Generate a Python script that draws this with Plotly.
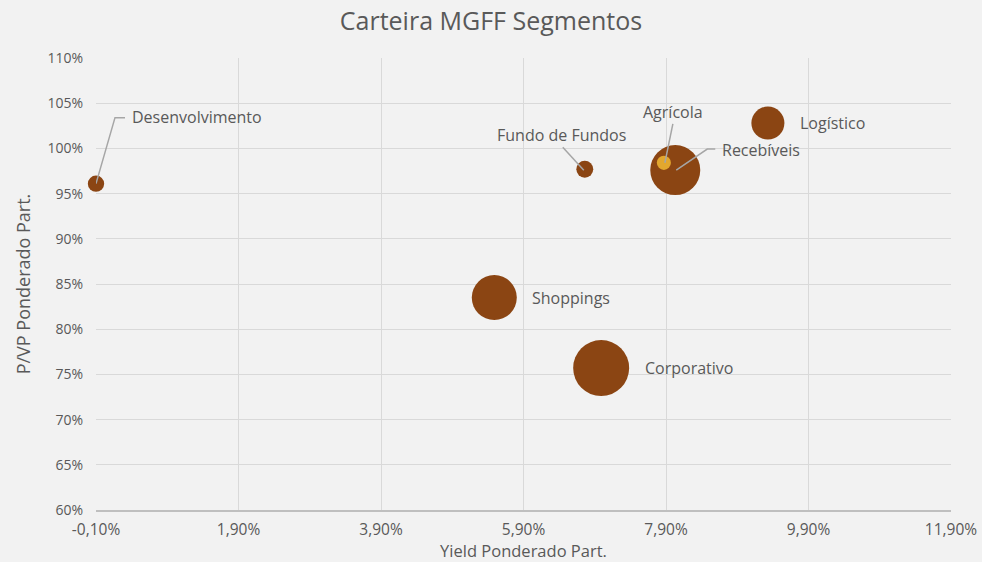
import plotly.graph_objects as go

# ---- data ----
segments = ["Desenvolvimento", "Fundo de Fundos", "Recebíveis", "Agrícola",
            "Logístico", "Shoppings", "Corporativo"]
yield_pct = [-0.10, 6.76, 8.03, 7.87, 9.33, 5.49, 6.99]      # Yield Ponderado Part. (%)
pvp_pct = [96.1, 97.7, 97.6, 98.4, 102.8, 83.5, 75.7]          # P/VP Ponderado Part. (%)
participation = [2.8, 3.0, 26.3, 2.1, 11.5, 21.3, 33.0]       # bubble size (% of portfolio)
bubble_colors = ["#8B4513", "#8B4513", "#8B4513", "#E2A72E",
                 "#8B4513", "#8B4513", "#8B4513"]

x_tickvals = [-0.10, 1.90, 3.90, 5.90, 7.90, 9.90, 11.90]
x_ticktext = ["-0,10%", "1,90%", "3,90%", "5,90%", "7,90%", "9,90%", "11,90%"]
y_tickvals = [60, 65, 70, 75, 80, 85, 90, 95, 100, 105, 110]
y_ticktext = [f"{v}%" for v in y_tickvals]

# label placement in pixels relative to each bubble (style, not data):
# text shift and optional leader-line path (pixel offsets, y positive = up)
label_style = {
    "Desenvolvimento": dict(xs=34, ys=67, xanchor="left",
                            path="M 0 0 L 19 66 L 29 66"),
    "Fundo de Fundos": dict(xs=-23, ys=34, xanchor="center",
                            path="M -1 -1 L -22 22"),
    "Agrícola": dict(xs=9, ys=51, xanchor="center",
                     path="M 1 0 L 9 39"),
    "Recebíveis": dict(xs=45, ys=20, xanchor="left",
                       path="M 1 0 L 32 21 L 40 21"),
    "Logístico": dict(xs=30, ys=0, xanchor="left", path=None),
    "Shoppings": dict(xs=36, ys=0, xanchor="left", path=None),
    "Corporativo": dict(xs=42, ys=0, xanchor="left", path=None),
}

FONT = "Open Sans"
TXT = "#595959"
LINE = "#a6a6a6"
max_diam = 56
sizeref = 2.0 * max(participation) / (max_diam ** 2)

fig = go.Figure()
fig.add_trace(go.Scatter(
    x=yield_pct, y=pvp_pct, mode="markers",
    text=segments, cliponaxis=False,
    marker=dict(size=participation, sizemode="area", sizeref=sizeref,
                color=bubble_colors, opacity=1, line=dict(width=0)),
    hoverinfo="text", showlegend=False,
))

annotations = []
shapes = []
for s, xv, yv in zip(segments, yield_pct, pvp_pct):
    st = label_style[s]
    annotations.append(dict(
        x=xv, y=yv, xref="x", yref="y", text=s, showarrow=False,
        xshift=st["xs"], yshift=st["ys"], xanchor=st["xanchor"], yanchor="middle",
        font=dict(family=FONT, size=16, color=TXT)))
    if st["path"]:
        shapes.append(dict(
            type="path", xref="x", yref="y",
            xsizemode="pixel", ysizemode="pixel", xanchor=xv, yanchor=yv,
            path=st["path"], line=dict(color=LINE, width=1.5), layer="above"))

fig.update_layout(
    width=982, height=562,
    paper_bgcolor="#f2f2f2", plot_bgcolor="#f2f2f2",
    margin=dict(l=96, r=31, t=58, b=52),
    title=dict(text="Carteira MGFF Segmentos", x=0.5, xanchor="center",
               y=0.962, yanchor="middle",
               font=dict(family=FONT, size=25, color=TXT)),
    font=dict(family=FONT, color=TXT),
    xaxis=dict(range=[-0.10, 11.90], tickvals=x_tickvals, ticktext=x_ticktext,
               automargin=False,
               showgrid=True, gridcolor="#d9d9d9", gridwidth=1.3,
               zeroline=False, showline=True, linecolor="#bfbfbf", linewidth=2,
               ticks="", ticklabelstandoff=4,
               tickfont=dict(family=FONT, size=15.5, color=TXT),
               title=dict(text="Yield Ponderado Part.", standoff=4,
                          font=dict(family=FONT, size=16.5, color=TXT))),
    yaxis=dict(range=[60, 110], tickvals=y_tickvals, ticktext=y_ticktext,
               automargin=False,
               showgrid=True, gridcolor="#d9d9d9", gridwidth=1.3,
               zeroline=False, showline=False,
               ticks="", ticklabelstandoff=12,
               tickfont=dict(family=FONT, size=14, color=TXT),
               title=dict(text="P/VP Ponderado Part.", standoff=12,
                          font=dict(family=FONT, size=18, color=TXT))),
    annotations=annotations,
    shapes=shapes,
)

fig.write_html("out.html", config={"displayModeBar": False},
               post_script="document.body.style.margin='0';document.body.style.padding='0';")
